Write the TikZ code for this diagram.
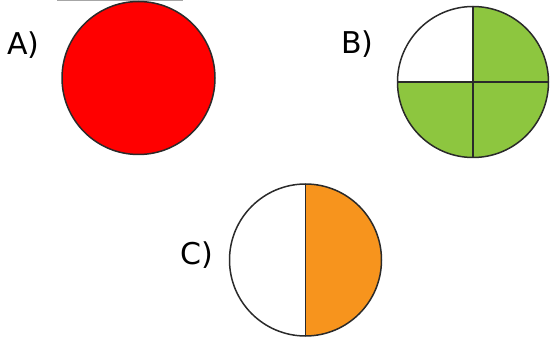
\documentclass[tikz,border=0pt]{standalone}
\usepackage{fontspec}
\setmainfont{DejaVu Sans}
\usetikzlibrary{calc}
\definecolor{cred}{HTML}{FF0000}
\definecolor{cgreen}{HTML}{8DC63F}
\definecolor{corange}{HTML}{F7941D}
\definecolor{cline}{HTML}{2A2A2A}
\begin{document}
\begin{tikzpicture}[x=1pt,y=-1pt,
  outline/.style={draw=cline,line width=1.5pt},
  divider/.style={draw=cline,line width=1.5pt},
  lbl/.style={anchor=base west,inner sep=0pt,font=\fontsize{30}{36}\selectfont}]
\useasboundingbox (0,0) rectangle (550,345);
% faint top mark
\draw[gray!70,line width=1pt] (57,0.5) -- (183,0.5);
% A
\coordinate (ca) at (138.5,78);
\fill[cred] (ca) circle[radius=76.5];
\draw[outline] (ca) circle[radius=76.5];
\node[lbl] (la) at (7,55) {A)};
% B
\coordinate (cb) at (473,82);
\fill[cgreen] (cb) -- ++(0,-75.5) arc[start angle=-90,end angle=180,radius=75.5] -- cycle;
\draw[outline] (cb) circle[radius=75.5];
\draw[divider] ($(cb)+(-75.5,0)$) -- ($(cb)+(75.5,0)$);
\draw[divider] ($(cb)+(0,-75.5)$) -- ($(cb)+(0,75.5)$);
\node[lbl] (lb) at (341,54) {B)};
% C
\coordinate (cc) at (305.5,260);
\fill[corange] (cc) ++(0,-76) arc[start angle=-90,end angle=90,radius=76] -- cycle;
\draw[outline] (cc) circle[radius=76];
\draw[divider] ($(cc)+(0,-76)$) -- ($(cc)+(0,76)$);
\node[lbl] (lc) at (180,265) {C)};
\end{tikzpicture}
\end{document}
